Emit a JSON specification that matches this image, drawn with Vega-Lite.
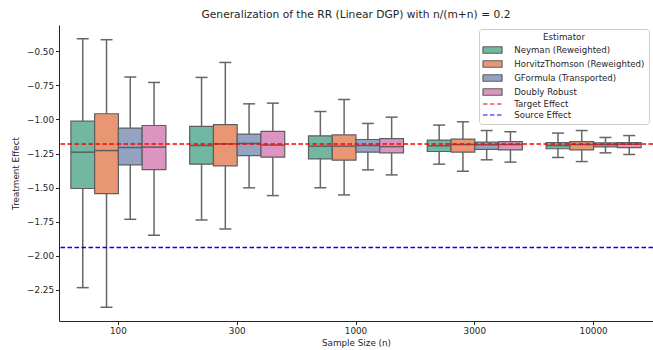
{
  "$schema": "https://vega.github.io/schema/vega-lite/v6.json",
  "width": 594,
  "height": 296,
  "autosize": {"type": "none"},
  "padding": {"left": 59, "top": 25, "right": 0, "bottom": 29},
  "background": "white",
  "title": {"text": "Generalization of the RR (Linear DGP) with n/(m+n) = 0.2", "fontSize": 10.7, "font": "DejaVu Sans", "fontWeight": "normal", "color": "#262626", "anchor": "middle", "offset": 4},
  "config": {
    "view": {"stroke": null},
    "font": "DejaVu Sans",
    "axis": {"domainColor": "#262626", "tickColor": "#262626", "labelColor": "#262626", "titleColor": "#262626", "grid": false, "labelFontSize": 8.8, "titleFontSize": 8.8, "titleFontWeight": "normal", "tickSize": 3.5, "domainWidth": 1, "labelFont": "DejaVu Sans", "titleFont": "DejaVu Sans"},
    "legend": {"orient": "top-right", "offset": 4, "padding": 4, "strokeColor": "#cccccc", "fillColor": "white", "cornerRadius": 3, "titleAnchor": "middle", "titleFontSize": 8.7, "titleFontWeight": "normal", "titleColor": "#262626", "titleFont": "DejaVu Sans", "titlePadding": 4, "labelFontSize": 8.6, "labelColor": "#262626", "labelFont": "DejaVu Sans", "symbolSize": 36, "symbolOffset": 5.2, "labelOffset": 17.4, "rowPadding": 2, "symbolStrokeWidth": 1.2}
  },
  "datasets": {
    "boxes": [
      {"n": "100", "est": "Neyman (Reweighted)", "lo": -2.235, "q1": -1.507, "med": -1.240, "q3": -1.012, "hi": -0.407},
      {"n": "100", "est": "HorvitzThomson (Reweighted)", "lo": -2.379, "q1": -1.544, "med": -1.228, "q3": -0.958, "hi": -0.414},
      {"n": "100", "est": "GFormula (Transported)", "lo": -1.733, "q1": -1.333, "med": -1.206, "q3": -1.063, "hi": -0.688},
      {"n": "100", "est": "Doubly Robust", "lo": -1.850, "q1": -1.368, "med": -1.203, "q3": -1.044, "hi": -0.728},
      {"n": "300", "est": "Neyman (Reweighted)", "lo": -1.738, "q1": -1.328, "med": -1.191, "q3": -1.051, "hi": -0.691},
      {"n": "300", "est": "HorvitzThomson (Reweighted)", "lo": -1.804, "q1": -1.340, "med": -1.179, "q3": -1.037, "hi": -0.581},
      {"n": "300", "est": "GFormula (Transported)", "lo": -1.502, "q1": -1.265, "med": -1.176, "q3": -1.108, "hi": -0.885},
      {"n": "300", "est": "Doubly Robust", "lo": -1.559, "q1": -1.277, "med": -1.188, "q3": -1.088, "hi": -0.880},
      {"n": "1000", "est": "Neyman (Reweighted)", "lo": -1.502, "q1": -1.289, "med": -1.196, "q3": -1.120, "hi": -0.941},
      {"n": "1000", "est": "HorvitzThomson (Reweighted)", "lo": -1.554, "q1": -1.299, "med": -1.196, "q3": -1.113, "hi": -0.853},
      {"n": "1000", "est": "GFormula (Transported)", "lo": -1.370, "q1": -1.240, "med": -1.191, "q3": -1.147, "hi": -1.029},
      {"n": "1000", "est": "Doubly Robust", "lo": -1.407, "q1": -1.245, "med": -1.199, "q3": -1.140, "hi": -0.983},
      {"n": "3000", "est": "Neyman (Reweighted)", "lo": -1.328, "q1": -1.235, "med": -1.193, "q3": -1.152, "hi": -1.041},
      {"n": "3000", "est": "HorvitzThomson (Reweighted)", "lo": -1.380, "q1": -1.240, "med": -1.184, "q3": -1.144, "hi": -1.017},
      {"n": "3000", "est": "GFormula (Transported)", "lo": -1.296, "q1": -1.220, "med": -1.186, "q3": -1.166, "hi": -1.081},
      {"n": "3000", "est": "Doubly Robust", "lo": -1.313, "q1": -1.223, "med": -1.184, "q3": -1.162, "hi": -1.090},
      {"n": "10000", "est": "Neyman (Reweighted)", "lo": -1.279, "q1": -1.215, "med": -1.191, "q3": -1.169, "hi": -1.100},
      {"n": "10000", "est": "HorvitzThomson (Reweighted)", "lo": -1.309, "q1": -1.223, "med": -1.184, "q3": -1.162, "hi": -1.081},
      {"n": "10000", "est": "GFormula (Transported)", "lo": -1.245, "q1": -1.201, "med": -1.184, "q3": -1.171, "hi": -1.132},
      {"n": "10000", "est": "Doubly Robust", "lo": -1.257, "q1": -1.206, "med": -1.181, "q3": -1.169, "hi": -1.118}
    ],
    "effects": [
      {"est": "Target Effect", "value": -1.18},
      {"est": "Source Effect", "value": -1.94}
    ]
  },
  "layer": [
    {
      "data": {"name": "boxes"},
      "mark": {"type": "rule", "color": "#666666", "strokeWidth": 1.5},
      "encoding": {
        "x": {"field": "n", "type": "nominal", "sort": ["100", "300", "1000", "3000", "10000"], "scale": {"paddingInner": 0, "paddingOuter": 0}, "axis": {"title": "Sample Size (n)", "labelAngle": 0, "titlePadding": 3, "labelPadding": 2}},
        "xOffset": {"field": "est", "type": "nominal", "sort": ["Neyman (Reweighted)", "HorvitzThomson (Reweighted)", "GFormula (Transported)", "Doubly Robust"], "scale": {"paddingInner": 0, "paddingOuter": 0.5}},
        "y": {"field": "lo", "type": "quantitative", "scale": {"domain": [-2.48, -0.306], "nice": false, "zero": false}, "axis": {"title": "Treatment Effect", "values": [-2.25, -2.0, -1.75, -1.5, -1.25, -1.0, -0.75, -0.5], "labelExpr": "replace(format(datum.value, '.2f'), '-', '−')", "titlePadding": 6}},
        "y2": {"field": "hi"}
      }
    },
    {
      "data": {"name": "boxes"},
      "mark": {"type": "bar", "strokeWidth": 1.2},
      "encoding": {
        "x": {"field": "n", "type": "nominal", "sort": ["100", "300", "1000", "3000", "10000"]},
        "xOffset": {"field": "est", "type": "nominal", "sort": ["Neyman (Reweighted)", "HorvitzThomson (Reweighted)", "GFormula (Transported)", "Doubly Robust"]},
        "y": {"field": "q1", "type": "quantitative"},
        "y2": {"field": "q3"},
        "fill": {"field": "est", "type": "nominal", "legend": {"title": "Estimator"},
          "scale": {"domain": ["Neyman (Reweighted)", "HorvitzThomson (Reweighted)", "GFormula (Transported)", "Doubly Robust", "Target Effect", "Source Effect"], "range": ["#71b7a1", "#e99675", "#95a3c3", "#dc95c1", "transparent", "transparent"]}},
        "stroke": {"field": "est", "type": "nominal", "legend": {"title": "Estimator"},
          "scale": {"domain": ["Neyman (Reweighted)", "HorvitzThomson (Reweighted)", "GFormula (Transported)", "Doubly Robust", "Target Effect", "Source Effect"], "range": ["#5e5e5e", "#5e5e5e", "#5e5e5e", "#5e5e5e", "red", "blue"]}},
        "strokeDash": {"field": "est", "type": "nominal", "legend": {"title": "Estimator"},
          "scale": {"domain": ["Neyman (Reweighted)", "HorvitzThomson (Reweighted)", "GFormula (Transported)", "Doubly Robust", "Target Effect", "Source Effect"], "range": [[1, 0], [1, 0], [1, 0], [1, 0], [4.5, 2.5], [4.5, 2.5]]}}
      }
    },
    {
      "data": {"name": "boxes"},
      "mark": {"type": "tick", "orient": "horizontal", "color": "#5e5e5e", "size": 23.8, "thickness": 1.5, "opacity": 1},
      "encoding": {
        "x": {"field": "n", "type": "nominal", "sort": ["100", "300", "1000", "3000", "10000"]},
        "xOffset": {"field": "est", "type": "nominal", "sort": ["Neyman (Reweighted)", "HorvitzThomson (Reweighted)", "GFormula (Transported)", "Doubly Robust"]},
        "y": {"field": "med", "type": "quantitative"}
      }
    },
    {
      "data": {"name": "boxes"},
      "mark": {"type": "tick", "orient": "horizontal", "color": "#666666", "size": 12, "thickness": 1.5, "opacity": 1},
      "encoding": {
        "x": {"field": "n", "type": "nominal", "sort": ["100", "300", "1000", "3000", "10000"]},
        "xOffset": {"field": "est", "type": "nominal", "sort": ["Neyman (Reweighted)", "HorvitzThomson (Reweighted)", "GFormula (Transported)", "Doubly Robust"]},
        "y": {"field": "lo", "type": "quantitative"}
      }
    },
    {
      "data": {"name": "boxes"},
      "mark": {"type": "tick", "orient": "horizontal", "color": "#666666", "size": 12, "thickness": 1.5, "opacity": 1},
      "encoding": {
        "x": {"field": "n", "type": "nominal", "sort": ["100", "300", "1000", "3000", "10000"]},
        "xOffset": {"field": "est", "type": "nominal", "sort": ["Neyman (Reweighted)", "HorvitzThomson (Reweighted)", "GFormula (Transported)", "Doubly Robust"]},
        "y": {"field": "hi", "type": "quantitative"}
      }
    },
    {
      "data": {"name": "effects"},
      "mark": {"type": "rule", "strokeWidth": 1.3},
      "encoding": {
        "y": {"field": "value", "type": "quantitative"},
        "stroke": {"field": "est", "type": "nominal", "legend": {"title": "Estimator"}},
        "strokeDash": {"field": "est", "type": "nominal", "legend": {"title": "Estimator"}}
      }
    },
    {
      "data": {"name": "effects"},
      "mark": {"type": "point", "size": 0, "strokeWidth": 0},
      "encoding": {
        "y": {"field": "value", "type": "quantitative"},
        "shape": {"field": "est", "type": "nominal", "legend": {"title": "Estimator"},
          "scale": {"domain": ["Neyman (Reweighted)", "HorvitzThomson (Reweighted)", "GFormula (Transported)", "Doubly Robust", "Target Effect", "Source Effect"], "range": ["M-3.17,-1.08H3.17V1.08H-3.17Z", "M-3.17,-1.08H3.17V1.08H-3.17Z", "M-3.17,-1.08H3.17V1.08H-3.17Z", "M-3.17,-1.08H3.17V1.08H-3.17Z", "M-3.17,0H3.17", "M-3.17,0H3.17"]}}
      }
    }
  ]
}
